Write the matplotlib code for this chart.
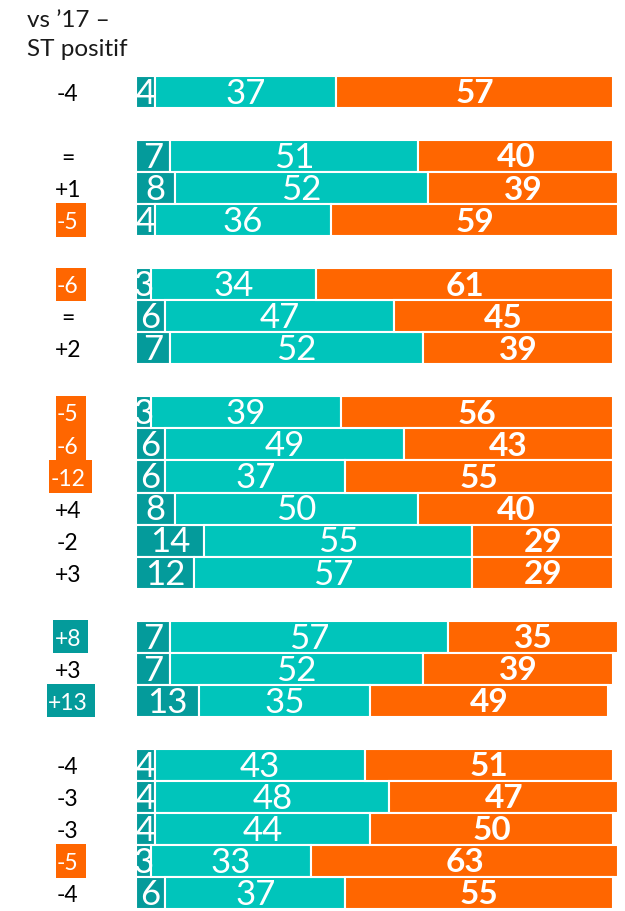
import matplotlib
matplotlib.use('Agg')
import matplotlib.pyplot as plt
from matplotlib.patches import Rectangle
import numpy as np

plt.rcParams['font.family'] = ['Lato', 'DejaVu Sans']

# valeurs des trois segments pour chaque ligne
bas = [4, 7, 8, 4, 3, 6, 7, 3, 6, 6, 8, 14, 12, 7, 7, 13, 4, 4, 4, 3, 6]
milieu = [37, 51, 52, 36, 34, 47, 52, 39, 49, 37, 50, 55, 57, 57, 52, 35, 43, 48, 44, 33, 37]
haut = [57, 40, 39, 59, 61, 45, 39, 56, 43, 55, 40, 29, 29, 35, 39, 49, 51, 47, 50, 63, 55]

# evolution vs '17 (0 = normal, 1 = baisse surlignee, 2 = hausse surlignee)
evol = ['-4', '=', '+1', '-5', '-6', '=', '+2', '-5', '-6', '-12', '+4', '-2', '+3',
        '+8', '+3', '+13', '-4', '-3', '-3', '-5', '-4']
surlign = [0, 0, 0, 1, 1, 0, 0, 1, 1, 1, 0, 0, 0, 2, 0, 2, 0, 0, 0, 1, 0]

# nombre de lignes par groupe
groupes = [1, 3, 3, 6, 3, 5]

fonce = '#049b9b'
turquoise = '#00c5bb'
orange = '#ff6600'

pos = []
p = 0
for g in groupes:
    pos.extend(range(p, p + g))
    p += g + 1
pos = np.array(pos)
bas = np.array(bas)
milieu = np.array(milieu)
haut = np.array(haut)

fig = plt.figure(figsize=(6.25, 9.11), dpi=100)
ax = fig.add_axes([0, 0, 1, 1])
ax.set_xlim(-27.9, 100.4)
ax.set_ylim(25.56, -2.87)
ax.axis('off')

ax.barh(pos, bas, height=1, color=fonce, edgecolor='white', linewidth=1.5)
ax.barh(pos, milieu, left=bas, height=1, color=turquoise, edgecolor='white', linewidth=1.5)
ax.barh(pos, haut, left=bas + milieu, height=1, color=orange, edgecolor='white', linewidth=1.5)

for i, y in enumerate(pos):
    ax.text(bas[i] / 2, y + 0.06, str(bas[i]), ha='center', va='center',
            color='white', fontsize=25)
    ax.text(bas[i] + milieu[i] / 2, y + 0.06, str(milieu[i]), ha='center', va='center',
            color='white', fontsize=25)
    ax.text(bas[i] + milieu[i] + haut[i] / 2, y + 0.06, str(haut[i]), ha='center',
            va='center', color='white', fontsize=24, fontweight='bold')

# etiquettes d'evolution, avec fond colore si surlignees
etiquettes = []
for i, y in enumerate(pos):
    coul = 'black' if surlign[i] == 0 else 'white'
    t = ax.text(-14, y + 0.08, evol[i], ha='center', va='center', color=coul,
                fontsize=16.5, zorder=5)
    etiquettes.append(t)

fig.canvas.draw()
rend = fig.canvas.get_renderer()
inv = ax.transData.inverted()
for i, t in enumerate(etiquettes):
    if surlign[i] == 0:
        continue
    bb = t.get_window_extent(rend)
    x0 = inv.transform((bb.x0 - 1, 0))[0]
    x1 = inv.transform((bb.x1 + 7, 0))[0]
    fond = orange if surlign[i] == 1 else fonce
    ax.add_patch(Rectangle((x0, pos[i] - 0.52), x1 - x0, 1.04, facecolor=fond,
                           edgecolor='none', zorder=4))

fig.text(27 / 625, 1 - 27 / 911, "vs \u201917 \u2013", fontsize=17.5, va='baseline', color='#1a1a1a')
fig.text(27 / 625, 1 - 56 / 911, "ST positif", fontsize=17.5, va='baseline', color='#1a1a1a')

fig.savefig('out.png', dpi=100)
